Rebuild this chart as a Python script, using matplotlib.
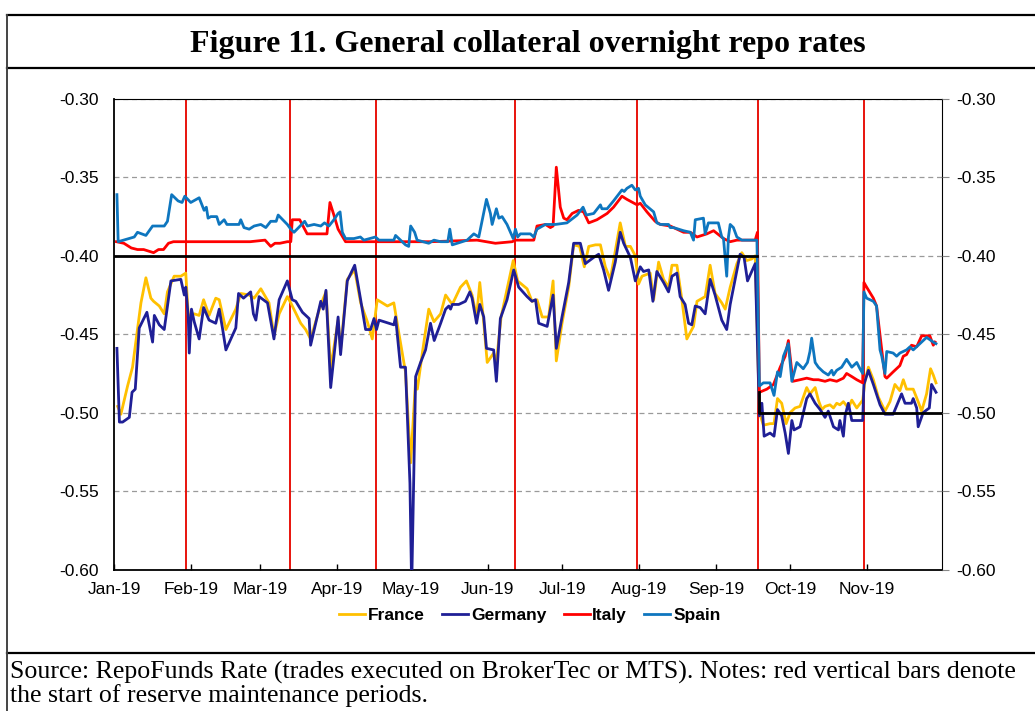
import numpy as np
import matplotlib
matplotlib.use('Agg')
import matplotlib.pyplot as plt
import matplotlib.dates as mdates
import pandas as pd
from matplotlib.lines import Line2D

plt.rcParams['axes.unicode_minus'] = False

# x values are days after 1 Jan 2019
france_day = [1.5, 2.8, 5.5, 7.5, 9.5, 10.9, 12.9, 14.9, 16.0, 18.3, 20.3, 21.6, 24.3, 27.0, 29.0, 30.0, 32.4, 34.4,
              36.2, 38.4, 41.1, 42.5, 45.2, 49.2, 51.2, 54.6, 56.6, 59.3, 62.6, 64.6, 66.7, 70.0, 71.4, 75.4, 77.4,
              79.4, 83.5, 85.6, 87.5, 90.5, 91.5, 94.2, 97.2, 99.6, 102.3, 104.3, 106.3, 110.4, 113.0, 115.0, 117.7,
              119.8, 121.8, 122.5, 124.5, 127.1, 129.2, 131.9, 133.9, 136.6, 139.9, 142.3, 144.6, 146.4, 147.7, 149.1,
              150.7, 153.3, 154.4, 156.3, 161.2, 163.0, 166.8, 168.8, 170.8, 172.9, 175.5, 177.3, 178.6, 180.9, 183.6,
              185.6, 188.0, 189.9, 191.7, 194.4, 196.4, 198.4, 200.4, 202.4, 204.4, 206.5, 208.5, 210.5, 211.8, 213.2,
              216.5, 217.9, 219.9, 221.9, 223.9, 225.3, 227.3, 229.3, 231.3, 234.0, 235.4, 238.7, 240.7, 242.7, 245.4,
              246.8, 248.8, 251.5, 253.5, 255.5, 257.5, 258.9,
              260.6, 262.2, 264.9, 266.5, 267.9, 269.6, 271.4, 273.0, 275.0, 277.0, 279.7, 281.0, 283.1, 284.4, 285.8,
              287.1, 289.1, 290.5, 291.8, 293.1, 294.5, 296.5, 297.9, 299.9, 302.3, 303.2, 304.6, 306.6, 308.6, 311.3,
              313.3, 315.3, 317.3, 318.7, 320.0, 322.7, 324.7, 326.1, 328.1, 329.7, 330.8, 331.9]
france_rate = [-0.496, -0.501, -0.483, -0.471, -0.447, -0.430, -0.414, -0.427, -0.429, -0.432, -0.437, -0.423, -0.413,
               -0.413, -0.411, -0.438, -0.437, -0.438, -0.428, -0.438, -0.427, -0.428, -0.447, -0.434, -0.424, -0.425,
               -0.427, -0.421, -0.430, -0.451, -0.437, -0.426, -0.430, -0.443, -0.447, -0.453, -0.431, -0.423, -0.472,
               -0.441, -0.460, -0.415, -0.409, -0.430, -0.442, -0.453, -0.428, -0.432, -0.430, -0.449, -0.474, -0.532,
               -0.479, -0.485, -0.462, -0.434, -0.442, -0.437, -0.425, -0.431, -0.420, -0.416, -0.425, -0.439, -0.417,
               -0.439, -0.468, -0.462, -0.468, -0.439, -0.403, -0.416, -0.421, -0.429, -0.428, -0.439, -0.439, -0.416,
               -0.467, -0.443, -0.420, -0.393, -0.394, -0.407, -0.394, -0.393, -0.393, -0.407, -0.415, -0.397, -0.379,
               -0.394, -0.394, -0.400, -0.418, -0.413, -0.411, -0.428, -0.404, -0.415, -0.420, -0.406, -0.406, -0.428,
               -0.453, -0.445, -0.429, -0.426, -0.406, -0.424, -0.430, -0.434, -0.420, -0.405, -0.398, -0.403, -0.402,
               -0.400,
               -0.500, -0.508, -0.507, -0.507, -0.491, -0.494, -0.507, -0.500, -0.497, -0.496, -0.484, -0.488, -0.484,
               -0.492, -0.498, -0.496, -0.495, -0.497, -0.494, -0.495, -0.493, -0.497, -0.492, -0.497, -0.492, -0.480,
               -0.471, -0.479, -0.490, -0.499, -0.493, -0.482, -0.486, -0.479, -0.485, -0.485, -0.493, -0.499, -0.488,
               -0.472, -0.476, -0.481]

germany_day = [1.2, 2.2, 3.5, 6.2, 7.3, 8.6, 10.2, 13.3, 15.6, 16.3, 18.3, 20.3, 23.0, 27.0, 28.4, 29.0, 30.0, 30.4,
               31.3, 32.4, 34.4, 36.2, 38.4, 41.1, 42.5, 43.8, 45.2, 49.2, 50.3, 52.3, 55.2, 56.3, 57.3, 58.6, 62.0,
               64.6, 66.7, 70.0, 72.0, 73.4, 76.1, 78.8, 79.4, 83.5, 84.5, 85.6, 87.5, 90.5, 91.5, 94.2, 97.2, 99.6,
               101.6, 103.6, 105.0, 106.0, 107.0, 113.0, 113.7, 115.7, 117.7, 119.5, 120.2, 121.8, 123.8, 125.8, 127.8,
               129.3, 131.9, 133.9, 135.2, 135.9, 136.6, 139.2, 141.9, 143.7, 144.6, 146.4, 147.7, 149.3, 150.4, 153.3,
               154.4, 156.0, 158.7, 161.4, 163.4, 166.8, 168.8, 170.2, 171.5, 174.9, 177.3, 178.6, 180.9, 183.6, 185.6,
               188.3, 190.3, 193.7, 195.7, 197.7, 199.7, 202.4, 204.4, 205.8, 208.5, 210.5, 212.5, 213.8, 215.9, 217.6,
               219.2, 221.9, 223.9, 225.3, 227.3, 228.6, 230.6, 232.0, 233.3, 234.7, 236.7, 238.7, 240.7, 242.7, 245.4,
               247.4, 248.8, 250.8, 252.8, 254.4, 255.8, 258.9,
               260.6, 261.6, 262.5, 264.9, 266.5, 267.9, 269.6, 271.0, 272.3, 273.7, 274.6, 277.0, 279.7, 281.0, 283.1,
               285.1, 287.1, 288.4, 290.5, 292.5, 293.1, 294.5, 295.2, 296.5, 297.9, 302.3, 302.8, 304.6, 306.6, 309.3,
               311.3, 314.6, 318.0, 319.4, 322.0, 322.7, 324.1, 324.7, 326.7, 329.2, 330.1, 331.9]
germany_rate = [-0.459, -0.506, -0.506, -0.503, -0.487, -0.485, -0.446, -0.436, -0.455, -0.438, -0.444, -0.447, -0.416,
                -0.415, -0.425, -0.420, -0.439, -0.462, -0.434, -0.442, -0.453, -0.433, -0.441, -0.443, -0.434, -0.446,
                -0.460, -0.446, -0.424, -0.427, -0.423, -0.437, -0.441, -0.426, -0.430, -0.453, -0.428, -0.416, -0.428,
                -0.429, -0.436, -0.440, -0.457, -0.429, -0.434, -0.422, -0.484, -0.439, -0.463, -0.416, -0.406, -0.428,
                -0.447, -0.447, -0.440, -0.447, -0.441, -0.444, -0.439, -0.471, -0.471, -0.545, -0.612, -0.477, -0.468,
                -0.460, -0.443, -0.454, -0.443, -0.434, -0.432, -0.434, -0.431, -0.431, -0.429, -0.423, -0.427, -0.443,
                -0.431, -0.439, -0.459, -0.460, -0.480, -0.440, -0.428, -0.409, -0.420, -0.426, -0.429, -0.428, -0.443,
                -0.445, -0.425, -0.459, -0.439, -0.417, -0.392, -0.392, -0.405, -0.401, -0.399, -0.409, -0.422, -0.404,
                -0.385, -0.392, -0.401, -0.416, -0.407, -0.410, -0.409, -0.429, -0.410, -0.417, -0.423, -0.413, -0.411,
                -0.426, -0.431, -0.443, -0.444, -0.432, -0.433, -0.437, -0.415, -0.425, -0.441, -0.447, -0.431, -0.415,
                -0.399, -0.401, -0.416, -0.405,
                -0.502, -0.494, -0.515, -0.513, -0.515, -0.498, -0.502, -0.513, -0.526, -0.505, -0.511, -0.509, -0.491,
                -0.488, -0.494, -0.498, -0.503, -0.499, -0.509, -0.511, -0.505, -0.515, -0.502, -0.494, -0.505, -0.505,
                -0.482, -0.473, -0.482, -0.495, -0.501, -0.501, -0.488, -0.494, -0.494, -0.491, -0.497, -0.509, -0.500,
                -0.497, -0.482, -0.487]

italy_day = [1.0, 4.0, 7.0, 9.5, 12.0, 16.0, 18.0, 20.0, 22.0, 24.0, 40.0, 55.0, 61.0, 63.3, 65.0, 67.0, 70.0, 71.4,
             72.0, 75.0, 78.0, 86.0, 87.2, 88.8, 90.5, 93.5, 120.0, 128.0, 146.6, 154.0, 160.8, 162.1, 169.5, 170.8,
             174.2, 176.2, 177.3, 178.6, 180.2, 181.6, 182.9, 185.0, 187.6, 189.6, 191.7, 195.0, 199.1, 201.7, 205.1,
             207.1, 211.2, 212.5, 215.2, 218.5, 220.6, 224.6, 230.0, 232.7, 235.4, 239.4, 242.1, 246.1, 248.8, 251.5,
             258.9, 259.8,
             260.6, 263.6, 266.3, 269.0, 271.0, 272.3, 274.1, 277.0, 279.7, 282.4, 284.4, 287.1, 289.1, 291.8, 294.5,
             295.8, 297.9, 299.9, 302.3, 302.8, 303.9, 306.6, 307.9, 310.0, 311.3, 312.0, 314.6, 317.3, 318.7, 320.0,
             322.0, 324.1, 326.1, 329.4, 330.8, 331.5]
italy_rate = [-0.391, -0.392, -0.395, -0.396, -0.396, -0.398, -0.396, -0.396, -0.392, -0.391, -0.391, -0.391, -0.390,
              -0.394, -0.392, -0.392, -0.391, -0.391, -0.377, -0.377, -0.386, -0.386, -0.366, -0.374, -0.383, -0.391,
              -0.391, -0.391, -0.390, -0.392, -0.391, -0.390, -0.390, -0.381, -0.380, -0.382, -0.381, -0.3435, -0.369,
              -0.376, -0.377, -0.373, -0.371, -0.372, -0.379, -0.377, -0.373, -0.369, -0.362, -0.364, -0.3675, -0.3665,
              -0.372, -0.378, -0.380, -0.381, -0.385, -0.385, -0.388, -0.386, -0.384, -0.389, -0.391, -0.390, -0.390,
              -0.385,
              -0.487, -0.485, -0.482, -0.471, -0.464, -0.454, -0.480, -0.479, -0.478, -0.479, -0.479, -0.480, -0.479,
              -0.480, -0.478, -0.475, -0.477, -0.479, -0.481, -0.417, -0.420, -0.427, -0.432, -0.460, -0.477, -0.478,
              -0.474, -0.470, -0.464, -0.463, -0.457, -0.458, -0.451, -0.451, -0.457, -0.455]

spain_day = [1.2, 1.7, 8.2, 9.5, 12.9, 15.6, 20.3, 21.6, 23.3, 25.9, 27.5, 28.6, 31.0, 34.4, 36.4, 37.3, 38.0, 39.1,
             41.5, 42.5, 44.5, 45.6, 50.5, 51.2, 52.5, 54.6, 56.6, 59.3, 61.3, 63.3, 65.5, 66.3, 70.0, 71.4, 72.7,
             77.0, 78.1, 80.8, 83.5, 85.0, 86.8, 88.8, 90.5, 91.3, 92.2, 93.5, 96.9, 99.5, 100.9, 105.6, 107.0, 113.0,
             113.7, 115.7, 117.7, 119.0, 119.8, 121.4, 122.4, 127.1, 129.2, 131.9, 134.8, 135.6, 136.6, 140.6, 142.6,
             145.3, 147.3, 150.4, 152.0, 152.7, 154.4, 155.4, 156.7, 158.7, 161.2, 162.1, 163.0, 164.1, 168.1, 169.5,
             170.8, 174.2, 178.2, 182.9, 187.0, 189.4, 190.7, 193.7, 196.4, 197.0, 199.1, 201.7, 205.1, 206.0, 207.1,
             209.1, 210.5, 211.8, 212.5, 214.5, 217.9, 219.2, 220.6, 223.9, 224.6, 225.9, 230.0, 232.7, 234.0, 234.7,
             238.0, 238.7, 240.0, 244.0, 245.4, 246.1, 247.4, 248.1, 248.8, 250.1, 251.5, 253.5, 256.9, 259.6,
             260.6, 262.2, 264.9, 266.5, 267.9, 269.0, 270.3, 272.3, 273.7, 275.7, 277.0, 278.3, 280.0, 281.0, 281.7,
             283.1, 284.4, 286.4, 288.4, 289.8, 290.5, 291.8, 293.8, 295.8, 297.9, 299.9, 301.2, 302.3, 302.8, 303.9,
             306.6, 307.9, 309.3, 310.0, 311.3, 312.0, 314.6, 316.0, 317.3, 318.7, 320.0, 321.4, 322.7, 325.4, 328.1,
             330.8, 331.9]
spain_rate = [-0.361, -0.391, -0.388, -0.385, -0.387, -0.381, -0.381, -0.378, -0.361, -0.365, -0.366, -0.362, -0.366,
              -0.363, -0.371, -0.369, -0.376, -0.375, -0.375, -0.380, -0.377, -0.380, -0.380, -0.377, -0.382, -0.383,
              -0.381, -0.380, -0.382, -0.378, -0.378, -0.374, -0.380, -0.383, -0.385, -0.378, -0.381, -0.380, -0.381,
              -0.379, -0.381, -0.377, -0.373, -0.372, -0.385, -0.389, -0.389, -0.388, -0.390, -0.388, -0.390, -0.390,
              -0.387, -0.390, -0.393, -0.394, -0.381, -0.385, -0.390, -0.392, -0.390, -0.391, -0.391, -0.383, -0.393,
              -0.391, -0.390, -0.386, -0.388, -0.364, -0.373, -0.380, -0.370, -0.376, -0.375, -0.380, -0.389, -0.383,
              -0.388, -0.386, -0.386, -0.388, -0.383, -0.380, -0.380, -0.379, -0.374, -0.369, -0.374, -0.373, -0.3675,
              -0.370, -0.370, -0.365, -0.358, -0.359, -0.357, -0.355, -0.358, -0.357, -0.362, -0.3675, -0.372, -0.379,
              -0.380, -0.380, -0.382, -0.382, -0.384, -0.385, -0.390, -0.377, -0.376, -0.386, -0.379, -0.379, -0.388,
              -0.389, -0.413, -0.388, -0.380, -0.382, -0.388, -0.390, -0.390, -0.390,
              -0.483, -0.481, -0.481, -0.489, -0.474, -0.477, -0.464, -0.456, -0.480, -0.468, -0.470, -0.472, -0.468,
              -0.461, -0.4525, -0.468, -0.471, -0.474, -0.476, -0.473, -0.476, -0.473, -0.471, -0.466, -0.471, -0.468,
              -0.472, -0.475, -0.423, -0.427, -0.429, -0.432, -0.460, -0.464, -0.475, -0.461, -0.462, -0.464, -0.462,
              -0.461, -0.460, -0.458, -0.460, -0.456, -0.452, -0.455, -0.456]

# deposit facility rate (black line); the gap marks the September cut
dfr_day = [0.0, 259.6, 259.6, 260.6, 260.6, 334.3]
dfr_rate = [-0.40, -0.40, np.nan, -0.487, -0.50, -0.50]

# start of reserve maintenance periods
maint_start = ['2019-01-30', '2019-03-13', '2019-04-17', '2019-06-12', '2019-07-31', '2019-09-18', '2019-10-31']

yticks = [-0.30, -0.35, -0.40, -0.45, -0.50, -0.55, -0.60]

start = pd.Timestamp('2019-01-01')


def to_dates(days):
    return start + pd.to_timedelta(np.array(days, dtype=float), unit='D')


fig = plt.figure(figsize=(10.35, 7.11), dpi=100)
ax = fig.add_axes([0.1101, 0.199, 0.8000, 0.6618])

for d in maint_start:
    ax.axvline(pd.Timestamp(d), color='#e8130c', lw=1.4, zorder=1)

series = [('France', france_day, france_rate, '#FFC000'),
          ('Germany', germany_day, germany_rate, '#1F1F96'),
          ('Italy', italy_day, italy_rate, '#FF0000'),
          ('Spain', spain_day, spain_rate, '#0E76BF')]
handles = []
for name, dd, rr, col in series:
    ln, = ax.plot(to_dates(dd), rr, color=col, lw=2.0, label=name, zorder=3)
    handles.append(ln)

ax.plot(to_dates(dfr_day), dfr_rate, color='black', lw=2.0, zorder=4)

ax.set_xlim(start, start + pd.Timedelta(days=334.3))
ax.set_ylim(-0.60, -0.30)
ax.set_yticks(yticks)
ax.yaxis.set_major_formatter(plt.FormatStrFormatter('%.2f'))
ax.set_xticks(pd.date_range('2019-01-01', '2019-11-01', freq='MS'))
ax.xaxis.set_major_formatter(mdates.DateFormatter('%b-%y'))

ax.set_axisbelow(True)
ax.yaxis.grid(True, linestyle=(0, (4, 3)), color='#9a9a9a', lw=0.9)

for s in ['left', 'bottom']:
    ax.spines[s].set_linewidth(1.3)
for s in ['top', 'right']:
    ax.spines[s].set_linewidth(0.8)

ax.tick_params(axis='x', direction='in', length=4, width=1, pad=9)
ax.tick_params(axis='y', length=0, pad=11)
for lab in ax.get_xticklabels() + ax.get_yticklabels():
    lab.set_fontfamily('Liberation Sans')
    lab.set_fontsize(12.5)

ax2 = ax.twinx()
ax2.set_ylim(-0.60, -0.30)
ax2.set_yticks(yticks)
ax2.yaxis.set_major_formatter(plt.FormatStrFormatter('%.2f'))
ax2.tick_params(axis='y', direction='out', length=5, width=0.8, color='#888888', pad=5.5)
for lab in ax2.get_yticklabels():
    lab.set_fontfamily('Liberation Sans')
    lab.set_fontsize(12.5)
for s in ax2.spines.values():
    s.set_visible(False)

fig.legend(handles, [h.get_label() for h in handles], loc='center', bbox_to_anchor=(0.512, 0.135),
           ncol=4, frameon=False, handlelength=1.5, handletextpad=0.15, columnspacing=1.0,
           prop=dict(family='Liberation Sans', weight='bold', size=12.5))

# boxed figure frame
fig.add_artist(Line2D([0.0072, 1.0], [0.9789, 0.9789], transform=fig.transFigure, color='black', lw=1.6))
fig.add_artist(Line2D([0.0072, 1.0], [0.9044, 0.9044], transform=fig.transFigure, color='black', lw=1.6))
fig.add_artist(Line2D([0.0072, 1.0], [0.0816, 0.0816], transform=fig.transFigure, color='black', lw=1.6))
fig.add_artist(Line2D([0.0072, 0.0072], [0.0, 0.9789], transform=fig.transFigure, color='#444444', lw=1.4))

fig.text(0.5097, 0.9262, 'Figure 11. General collateral overnight repo rates', ha='center', va='baseline',
         fontfamily='Liberation Serif', fontweight='bold', fontsize=23)
fig.text(0.0097, 0.0450, 'Source: RepoFunds Rate (trades executed on BrokerTec or MTS). Notes: red vertical bars denote',
         ha='left', va='baseline', fontfamily='Liberation Serif', fontsize=18.6)
fig.text(0.0097, 0.0125, 'the start of reserve maintenance periods.',
         ha='left', va='baseline', fontfamily='Liberation Serif', fontsize=18.6)

fig.savefig('out.png', dpi=100)
